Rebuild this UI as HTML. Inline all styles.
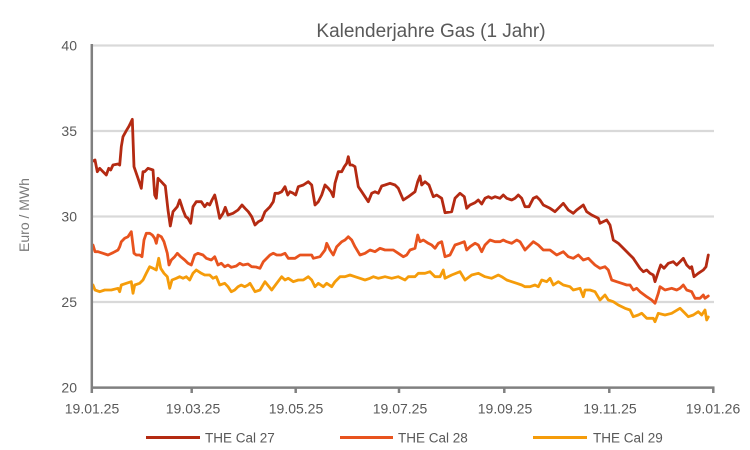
<!DOCTYPE html>
<html>
<head>
<meta charset="utf-8">
<style>
html,body{margin:0;padding:0;background:#fff;}
svg{display:block;}
text{font-family:"Liberation Sans",sans-serif;}
</style>
</head>
<body>
<svg width="750" height="450" viewBox="0 0 750 450" xmlns="http://www.w3.org/2000/svg">
<rect width="750" height="450" fill="#fff"/>
<!-- title -->
<text x="431" y="37" font-size="19" fill="#595959" text-anchor="middle">Kalenderjahre Gas (1 Jahr)</text>
<!-- gridlines -->
<g stroke="#d9d9d9" stroke-width="2.2">
<line x1="92" y1="45.5" x2="714" y2="45.5"/>
<line x1="92" y1="131" x2="714" y2="131"/>
<line x1="92" y1="216.5" x2="714" y2="216.5"/>
<line x1="92" y1="302" x2="714" y2="302"/>
</g>
<!-- y tick labels -->
<g font-size="14" fill="#595959" text-anchor="end">
<text x="77" y="50.5">40</text>
<text x="77" y="136">35</text>
<text x="77" y="221.5">30</text>
<text x="77" y="307">25</text>
<text x="77" y="392.5">20</text>
</g>
<text transform="translate(29,215) rotate(-90)" font-size="14" fill="#7a7a7a" text-anchor="middle">Euro / MWh</text>
<!-- series -->
<g fill="none" stroke-width="2.8" stroke-linejoin="round" stroke-linecap="round">
<polyline stroke="#f59c0a" points="93,285 95,290 99.7,291.7 104.7,290 111.3,290 118,288.3 119.7,291.7 121.3,285 126.3,283.3 131.3,281.7 133,293.3 134.7,285 139.7,283.3 143,280 146.3,273.3 149.7,266.7 153,268.3 156.3,270 158.7,258.3 160.7,268.3 164,273.3 167.3,276.7 169.7,288.3 172,280 176.3,278.3 179.7,276.7 183,278.3 186.3,276.7 189.7,280 193,273.3 196.3,270 201.3,273.3 204.7,275 209.7,275 213,278.3 216.3,276.7 219.7,285 224.7,283.3 228,286.7 231.3,291.7 234.7,290 238,286.7 241.3,285 244.7,286.7 248,285 250,283.3 255,291.7 260,290 265,281.7 271.7,290 276.7,283.3 281.7,276.7 285,280 288.3,278.3 293.3,281.7 298.3,280 303.3,280 308.3,276.7 311.7,280 315,286.7 318.3,283.3 323.3,286.7 326.7,283.3 331.7,286.7 335,281.7 340,276.7 345,276.7 350,275 355,276.7 360,278.3 365,280 370,278.3 373.3,276.7 378.3,278.3 385,276.7 391.7,278.3 398.3,276.7 405,280 408.3,276.7 415,276.7 418.3,273.3 425,273.3 430,271.7 435,276.7 440,276.7 443.3,270 445,278.3 451.7,275 460,271.7 465,280 471.7,275 478.3,273.3 485,276.7 491.7,278.3 498.3,275 501.7,276.7 506.7,280 511.7,281.7 516.7,283.3 521.7,285 525,286.7 530,286.7 535,285 538.3,286.7 541.7,280 546.7,281.7 550,278.3 553.3,285 558.3,281.7 563.3,285 570,286.7 573.3,290 580,288.3 583.3,296.7 585,290 590,290 595,291.7 600,300 605,295 608.3,300 613.3,301.7 618.3,305 625,308.3 630,310 633.3,316.7 638.3,315 641.7,313.3 646.7,318.3 653.3,318.3 655,321.7 658.3,313.3 665,315 671.7,313.3 680,308.3 685,313.3 688.3,316.7 693.3,315 698.3,311.7 701.7,315 705,310 706.7,320 708.3,317"/>
<polyline stroke="#e8531e" points="93,245 95,251.7 98,251.7 103,253.3 108,255 113,252.7 118,250 119.7,246.7 121.3,241.7 124.7,238.3 128,236.7 131.3,231.7 134,253.3 136.3,255 139.7,255 142,256.7 144,240 146.3,233.3 149.7,233.3 152.3,235 154.7,238.3 156.3,243.3 158,235 161.3,236.7 164,241.7 167.3,253.3 169,265 171.3,260 174.7,256.7 177.3,253.3 180.7,256.7 184.7,260 188,263.3 191.3,265 194.7,255 198,253.3 203,255 206.3,258.3 211.3,260 214.7,256.7 218,265 221.3,263.3 224.7,266.7 228,265 231.3,267.3 236.3,266 239.7,263.3 243,265 248,264 251.7,266.7 256,267 260,268.3 263.3,261.7 270,255 273.3,253.3 276.7,255 281,255 285,253.3 288.3,258.3 295,258.3 300,255 308.3,255 311.7,255 313.3,258.3 320,256.7 325,250 326.7,243.3 330,250 333.3,255 336.7,246.7 341.7,241.7 345,240 348.3,236.7 351.7,240 355,246.7 360,255 365,253.3 370,250 375,251.7 380,248.3 385,250 393.3,250 398.3,253.3 403.3,256.7 406.7,255 410,250 415,248.3 417.7,235 420,241.7 423.3,240 428.3,243.3 431.7,245 435,248.3 438.3,243.3 441.7,241.7 445,256.7 450,255 455,245 460,243.3 464.3,241.7 466.7,250 470,246.7 475,243.3 478.3,245 481.7,251.7 485,245 490,240 495,241.7 500,241.7 503.3,240 506.7,241.7 511.7,243.3 516.7,240 520,241.7 525,250 530,245 533.3,241.7 538.3,245 543.3,250 550,250 556.7,255 563.3,251.7 568.3,256.7 573.3,258.3 578.3,255 583.3,260 588.3,258.3 591.7,261.7 595,265 600,268.3 605,266.7 608.3,270 611.7,280 616.7,281.7 621.7,283.3 626.7,285 630,285 633.3,290 636.7,288.3 640,291.7 646.7,296.7 651.7,300 655,303.3 658.3,293.3 660,286.7 665,290 671.7,288.3 676.7,290 680,288.3 683.3,285 686.7,290 691.7,291.7 695,298.3 700,298.3 703.3,295 705,298.3 708.3,296"/>
<polyline stroke="#b42a12" points="93,161 95,160 97.3,171.7 99.7,168.3 103,171.7 106.3,175 108.7,168.3 110.7,170 113,165 118,164 119.7,165 121.3,146.7 123,136.7 126.3,130.7 128.7,126.7 130.7,122.7 132.3,119.3 134,166.7 138,178.3 141.3,188.3 143,171.7 144.7,171.7 148,168.3 153,170 154.7,195 156.3,198.3 158,178.3 161.3,181.7 165.3,186 168,210 170.3,226 173,211.7 177.3,206.7 179.7,200 183,210 185.7,216.7 188,218.3 190.7,223.3 193,206.7 196.3,201.7 201.3,201.7 204.7,206.7 207.3,203.3 209.7,205 212,200 214.7,195 216.3,201.7 219.7,218.3 223,213.3 225.3,207.3 228,215 233,213.3 238,210 242,205 245,208.3 248.3,211.7 251.7,216.7 255,225 258.3,221.7 261.7,220 265,211.7 270,206.7 273.3,201.7 275,193.3 278.3,193.3 281.7,191.7 285,186.7 287.7,195 290,191.7 293.3,193.3 295.7,195 298.3,186.7 303.3,185 308.3,181.7 311.7,185 315,205 318.3,201.7 321.7,195 325,185 328.3,188.3 331,191.7 333.3,196.7 335,183.3 338.3,171.7 341.7,171.7 344.3,166.7 346.7,163.3 348.3,156.7 350,165 352.3,165 355,166.7 358.3,186.7 361.7,191.7 365,196.7 368.3,201.7 371.7,193.3 375,191.7 378.3,193.3 381.7,186 385,185 390,183.3 395,185 398.3,188.3 403.3,200 408.3,196.7 415,191.7 417.7,181.7 420,176 421.7,185 425,181.7 429,185 433.3,196.7 436.7,195 441.7,198.3 445,212.7 451.7,211.7 455,198.3 460,193.3 464.3,196.7 466.7,208.3 470,205 475,202.7 478.3,200 481.7,204 485,198.3 488.3,196.7 491.7,198.3 495,196.7 500,198.3 503.3,195 506.7,198.3 511.7,200 515,198.3 518.3,195 521.7,198.3 525,206.7 529,206.7 533.3,198.3 536.7,196.7 540,200 543.3,205 550,208.3 555,211.7 563.3,203.3 568.3,210 573.3,213.3 576.7,210 583.3,205 586.7,211.7 591.7,215 598.3,218.3 600,223.3 606.7,220 610,225 613.3,240 618.3,243.3 623.3,248.3 630,255 633.3,258.3 640,268.3 643.3,271.7 646.7,270 650,273.3 653.3,275 655,281.7 658.3,271.7 660.7,265 664,268.3 668.3,263.3 673.3,261.7 676.7,265 680,261.7 683.3,258.3 686.7,265 690,268.3 691.7,266.7 694,276.7 698.3,273.3 703.3,270 706,266.7 708.3,255"/>
</g>
<!-- axes -->
<g stroke="#808080" stroke-width="2.5">
<line x1="91.8" y1="44" x2="91.8" y2="393"/>
<line x1="91" y1="387.6" x2="714.5" y2="387.6"/>
<line x1="191.7" y1="387" x2="191.7" y2="393"/>
<line x1="295.7" y1="387" x2="295.7" y2="393"/>
<line x1="399" y1="387" x2="399" y2="393"/>
<line x1="504.3" y1="387" x2="504.3" y2="393"/>
<line x1="609.3" y1="387" x2="609.3" y2="393"/>
<line x1="713.3" y1="387" x2="713.3" y2="393"/>
</g>
<!-- x tick labels -->
<g font-size="14" fill="#595959" text-anchor="middle">
<text x="92" y="413.5">19.01.25</text>
<text x="193" y="413.5">19.03.25</text>
<text x="296" y="413.5">19.05.25</text>
<text x="400" y="413.5">19.07.25</text>
<text x="505" y="413.5">19.09.25</text>
<text x="610" y="413.5">19.11.25</text>
<text x="713" y="413.5">19.01.26</text>
</g>
<!-- legend -->
<g stroke-width="3">
<line x1="146" y1="437.5" x2="200" y2="437.5" stroke="#b42a12"/>
<line x1="340" y1="437.5" x2="393" y2="437.5" stroke="#e8531e"/>
<line x1="533" y1="437.5" x2="587" y2="437.5" stroke="#f59c0a"/>
</g>
<g font-size="13.5" fill="#595959">
<text x="205" y="442.5">THE Cal 27</text>
<text x="398" y="442.5">THE Cal 28</text>
<text x="593" y="442.5">THE Cal 29</text>
</g>
</svg>
</body>
</html>
